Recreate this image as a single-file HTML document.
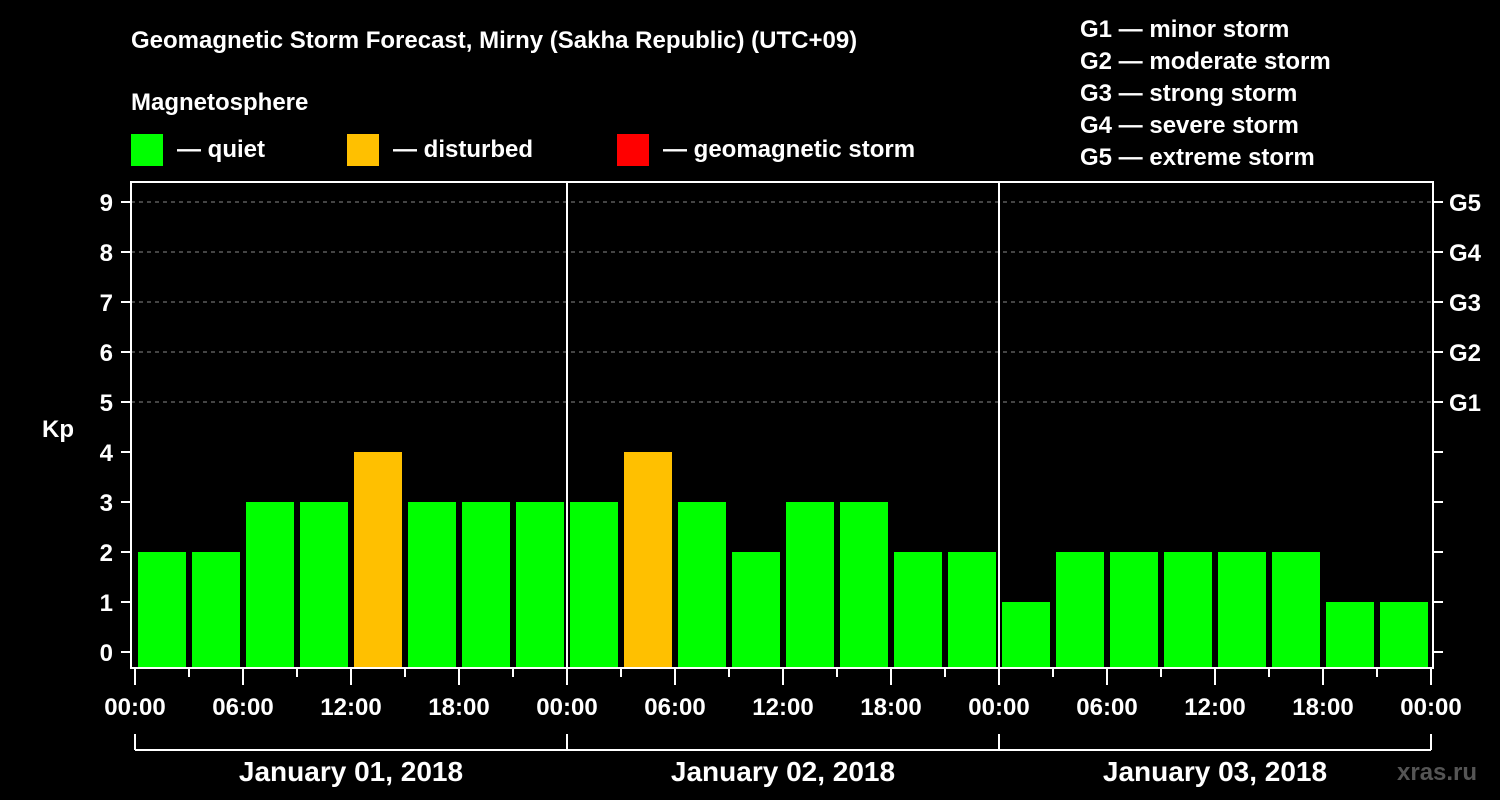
<!DOCTYPE html>
<html><head><meta charset="utf-8"><style>
html,body{margin:0;padding:0;background:#000;}
svg{display:block;font-family:"Liberation Sans",Arial,sans-serif;font-weight:bold;}
</style></head><body>
<svg id="c" width="1500" height="800" xmlns="http://www.w3.org/2000/svg">
<rect width="1500" height="800" fill="#000"/>
<text x="131" y="48" fill="#fff" font-size="24">Geomagnetic Storm Forecast, Mirny (Sakha Republic) (UTC+09)</text>
<text x="131" y="110" fill="#fff" font-size="24">Magnetosphere</text>
<g><rect x="131" y="134" width="32" height="32" fill="#00ff00"/><text x="177" y="157" fill="#fff" font-size="24">— quiet</text></g>
<g><rect x="347" y="134" width="32" height="32" fill="#ffc000"/><text x="393" y="157" fill="#fff" font-size="24">— disturbed</text></g>
<g><rect x="617" y="134" width="32" height="32" fill="#ff0000"/><text x="663" y="157" fill="#fff" font-size="24">— geomagnetic storm</text></g>
<g fill="#fff" font-size="24">
<text x="1080" y="37">G1 — minor storm</text>
<text x="1080" y="69">G2 — moderate storm</text>
<text x="1080" y="101">G3 — strong storm</text>
<text x="1080" y="133">G4 — severe storm</text>
<text x="1080" y="165">G5 — extreme storm</text>
</g>
<text x="42" y="437" fill="#fff" font-size="24">Kp</text>
<text x="1397" y="780" fill="#555" font-size="24">xras.ru</text>
<g id="plot"></g>
</svg>
<script>
const days = ["January 01, 2018","January 02, 2018","January 03, 2018"];
const kp = [2,2,3,3,4,3,3,3, 3,4,3,2,3,3,2,2, 1,2,2,2,2,2,1,1];
const yTicks = [0,1,2,3,4,5,6,7,8,9];
const gLabels = ["G1","G2","G3","G4","G5"];
const hourLabels = ["00:00","06:00","12:00","18:00"];

const NS="http://www.w3.org/2000/svg";
const g=document.getElementById('plot');
const L=131,R=1433,T=182,B=668,X0=135,DAYW=432;
const y=v=>652-v*50;
const x=h=>X0+h*DAYW/24;
function mk(t,a,p){const e=document.createElementNS(NS,t);for(const k in a)e.setAttribute(k,a[k]);(p||g).appendChild(e);return e;}
// grid
for(let v=5;v<=9;v++){
  const l=mk('line',{x1:L,x2:R,y1:y(v),y2:y(v),stroke:'#888','stroke-dasharray':'4,4','stroke-width':1});
  
  
}
// bars
kp.forEach((v,i)=>{
  const c=v>=5?'#ff0000':(v>=4?'#ffc000':'#00ff00');
  const r=mk('rect',{x:x(i*3)+3,y:y(v),width:48,height:B-y(v),fill:c});
  
  
});
// frame
const fr=mk('rect',{x:L,y:T,width:R-L,height:B-T,fill:'none',stroke:'#fff','stroke-width':2});


for(let d=1;d<days.length;d++){
  const l=mk('line',{x1:x(d*24),x2:x(d*24),y1:T,y2:B,stroke:'#fff','stroke-width':2});
  
  
}
// y ticks
yTicks.forEach(v=>{
  mk('line',{x1:121,x2:L,y1:y(v),y2:y(v),stroke:'#fff','stroke-width':2});
  mk('line',{x1:R,x2:1443,y1:y(v),y2:y(v),stroke:'#fff','stroke-width':2});
  const t=mk('text',{x:113,y:y(v)+9,fill:'#fff','font-size':24,'text-anchor':'end'});
  t.textContent=v;
  
  
});
gLabels.forEach((s,i)=>{
  const t=mk('text',{x:1449,y:y(5+i)+9,fill:'#fff','font-size':24});
  t.textContent=s;
  
  
});
// x ticks
for(let h=0;h<=24*days.length;h+=3){
  const major=h%6===0;
  mk('line',{x1:x(h),x2:x(h),y1:B,y2:major?685:677,stroke:'#fff','stroke-width':2});
  if(major){
    const t=mk('text',{x:x(h),y:715,fill:'#fff','font-size':24,'text-anchor':'middle'});
    t.textContent=h===24*days.length?hourLabels[0]:hourLabels[(h%24)/6];
    
    
  }
}
// day brackets
mk('line',{x1:x(0),x2:x(24*days.length),y1:750,y2:750,stroke:'#fff','stroke-width':2});
for(let d=0;d<=days.length;d++) mk('line',{x1:x(d*24),x2:x(d*24),y1:734,y2:750,stroke:'#fff','stroke-width':2});
days.forEach((s,d)=>{
  const t=mk('text',{x:x(d*24+12),y:781,fill:'#fff','font-size':28,'text-anchor':'middle'});
  t.textContent=s;
  
  
});
</script>
</body></html>
